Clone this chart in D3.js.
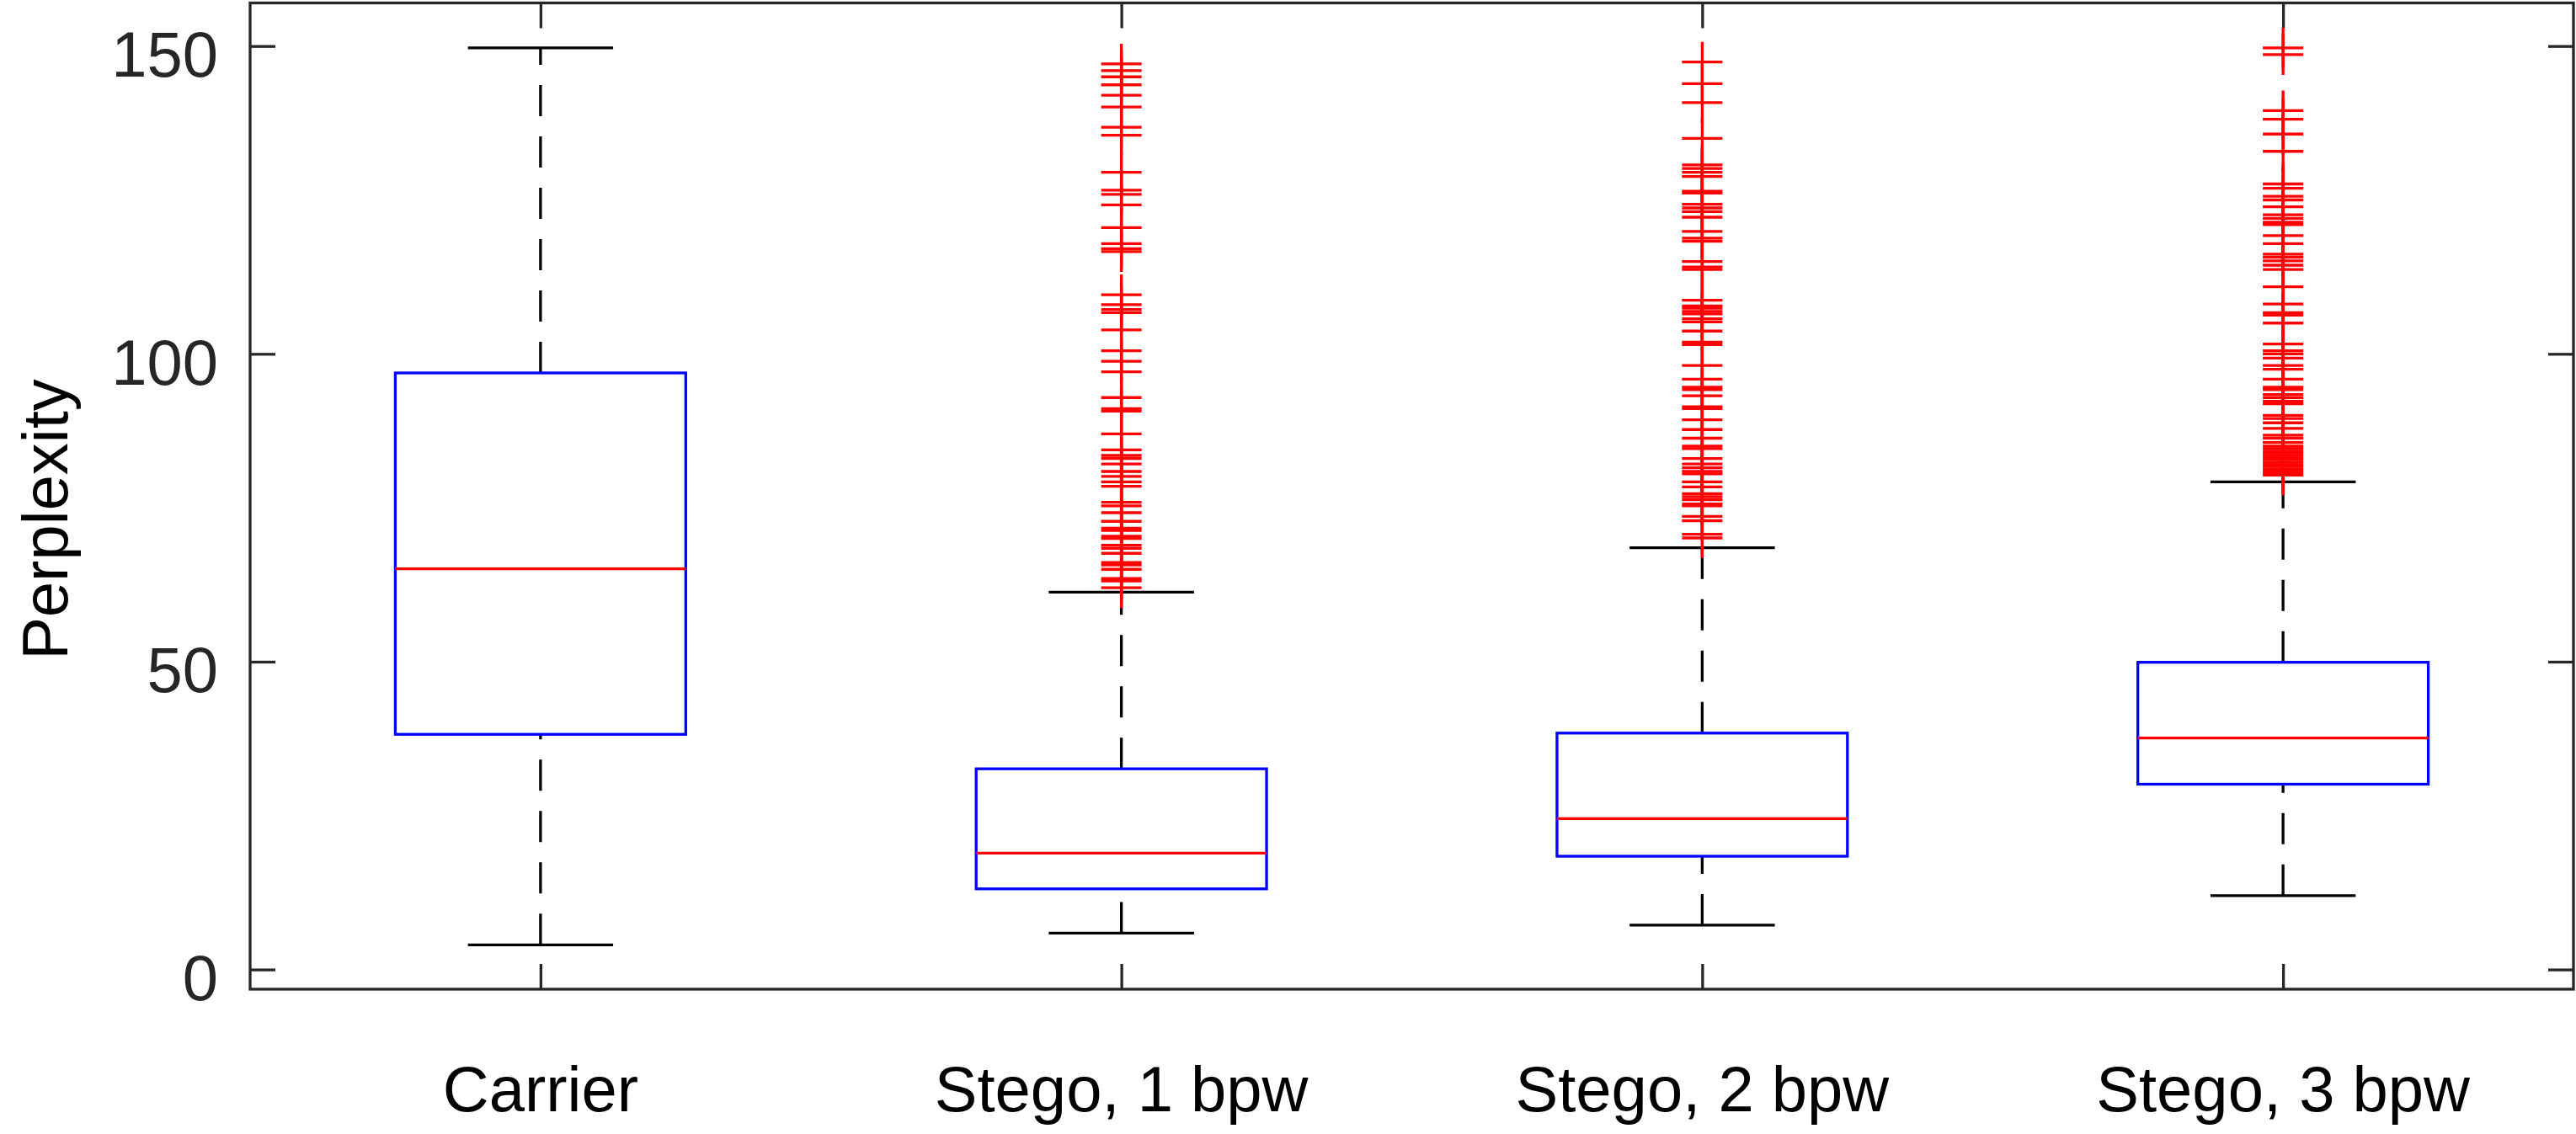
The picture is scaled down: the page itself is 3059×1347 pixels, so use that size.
<!DOCTYPE html>
<html>
<head>
<meta charset="utf-8">
<script src="https://cdn.jsdelivr.net/npm/d3@7"></script>
<style>
    body { margin: 0; background: #fff; }
    text { font-family: "Liberation Sans", Arial, Helvetica, sans-serif; }
</style>
</head>
<body>
<div id="chart"></div>
<script>
// Box plot statistics
const categories = ["Carrier", "Stego, 1 bpw", "Stego, 2 bpw", "Stego, 3 bpw"]
const lowerWhisker = [4.0, 5.9, 7.2, 12.0]
const q1 = [38.2, 13.1, 18.4, 30.1]
const median = [65.1, 18.9, 24.5, 37.6]
const q3 = [96.9, 32.6, 38.4, 49.9]
const upperWhisker = [149.7, 61.3, 68.5, 79.2]

// Outliers ('+' markers) per category
const outliersCarrier = []
const outliersStego1 = [147.1, 146.0, 145.0, 143.7, 142.0, 140.1, 136.8, 135.5, 129.5, 126.6, 125.9, 124.2,
    120.5, 117.9, 117.1, 116.6, 109.6, 108.0, 107.2, 106.7, 103.9, 100.5, 98.8, 97.1, 92.9, 91.1, 90.7,
    87.0, 84.4, 83.5, 83.0, 82.1, 80.9, 80.1, 79.2, 78.5, 75.9, 75.3, 74.2, 72.8, 71.7, 71.3, 70.4, 70.0,
    68.9, 68.4, 67.6, 66.1, 65.7, 65.0, 63.5, 63.1, 62.0]
const outliersStego2 = [147.4, 143.9, 140.8, 135.0, 130.7, 130.1, 129.5, 128.8, 126.4, 126.1, 124.3, 123.7,
    123.1, 122.2, 119.9, 118.8, 118.3, 115.0, 114.1, 113.7, 108.7, 107.8, 107.4, 106.9, 106.5, 105.7, 105.2,
    103.7, 101.9, 101.5, 98.1, 95.9, 94.6, 94.2, 93.2, 91.4, 91.1, 89.3, 87.7, 86.3, 85.0, 84.6, 83.0, 82.1,
    81.5, 80.9, 80.5, 79.2, 78.4, 77.3, 76.8, 76.3, 75.6, 75.3, 73.6, 72.9, 70.7, 70.1]
const outliersStego3 = [149.7, 148.6, 139.5, 138.1, 135.7, 132.9, 127.6, 126.9, 125.6, 125.0, 123.9, 122.6,
    122.0, 121.4, 121.0, 119.2, 117.9, 116.2, 115.7, 115.1, 114.4, 113.7, 110.9, 108.1, 106.7, 106.3, 105.0,
    101.6, 100.5, 100.0, 99.3, 98.1, 97.5, 95.9, 94.6, 94.2, 93.4, 92.9, 92.3, 91.9, 90.0, 89.5, 88.8, 87.9,
    86.8, 86.3, 85.6, 85.0, 84.6, 84.2, 83.9, 83.5, 83.1, 82.8, 82.4, 82.0, 81.7, 81.3, 81.0, 80.6, 80.3]
const outliers = [outliersCarrier, outliersStego1, outliersStego2, outliersStego3]

const yTicks = [0, 50, 100, 150]
const yLabel = "Perplexity"

// Figure geometry
const width = 3059, height = 1347
const plotLeft = 297, plotRight = 3056, plotTop = 3.5, plotBottom = 1175
const axisColor = "#262626"

let svg = d3.select("#chart").append("svg")
    .attr("width", width)
    .attr("height", height)

svg.append("rect").attr("width", width).attr("height", height).attr("fill", "#fff")

// Scales: categories sit at 1..4, limits 0.5..4.5 like MATLAB boxplot
const x = d3.scaleLinear().domain([0.5, 4.5]).range([plotLeft, plotRight])
const y = d3.scaleLinear().domain([-3.2, 157]).range([plotBottom, plotTop])

const boxHalf = 0.25, capHalf = 0.125

let data = categories.map((c, i) => ({
    name: c, pos: i + 1,
    lo: lowerWhisker[i], q1: q1[i], med: median[i], q3: q3[i], hi: upperWhisker[i],
    out: outliers[i]
}))

// Axes with inward ticks on all four sides
function styleAxis(g) {
    g.select(".domain").remove()
    g.selectAll(".tick line").attr("stroke", axisColor).attr("stroke-width", 3.3)
}

svg.append("g")
    .attr("transform", `translate(${plotLeft},0)`)
    .call(d3.axisLeft(y).tickValues(yTicks).tickSizeInner(-30).tickSizeOuter(0).tickPadding(41))
    .call(styleAxis)
    .call(g => g.selectAll(".tick text")
        .attr("fill", axisColor)
        .attr("font-size", 76)
        .attr("font-family", "Liberation Sans, Arial, Helvetica, sans-serif")
        .attr("dy", 36)
        .attr("x", -38))

svg.append("g")
    .attr("transform", `translate(${plotRight},0)`)
    .call(d3.axisRight(y).tickValues(yTicks).tickSizeInner(-30).tickSizeOuter(0).tickFormat(""))
    .call(styleAxis)

svg.append("g")
    .attr("transform", `translate(0,${plotBottom})`)
    .call(d3.axisBottom(x).tickValues(data.map(d => d.pos)).tickSizeInner(-30).tickSizeOuter(0).tickFormat(""))
    .call(styleAxis)

svg.append("g")
    .attr("transform", `translate(0,${plotTop})`)
    .call(d3.axisTop(x).tickValues(data.map(d => d.pos)).tickSizeInner(-30).tickSizeOuter(0).tickFormat(""))
    .call(styleAxis)

// Category labels
svg.append("g")
    .selectAll("text")
    .data(data)
    .enter()
    .append("text")
    .attr("x", d => x(d.pos))
    .attr("y", 1320)
    .attr("text-anchor", "middle")
    .attr("font-size", 76)
    .attr("fill", "#000")
    .text(d => d.name)

// Y axis title
svg.append("text")
    .attr("transform", "translate(80,617) rotate(-90)")
    .attr("text-anchor", "middle")
    .attr("font-size", 76)
    .attr("fill", "#000")
    .text(yLabel)

let boxes = svg.append("g")
    .selectAll("g")
    .data(data)
    .enter()
    .append("g")

// Dashed whiskers, drawn from low value to high value
boxes.append("line")
    .attr("x1", d => x(d.pos)).attr("x2", d => x(d.pos))
    .attr("y1", d => y(d.lo)).attr("y2", d => y(d.q1))
    .attr("stroke", "#000").attr("stroke-width", 3.3).attr("stroke-dasharray", "37,24")
boxes.append("line")
    .attr("x1", d => x(d.pos)).attr("x2", d => x(d.pos))
    .attr("y1", d => y(d.q3)).attr("y2", d => y(d.hi))
    .attr("stroke", "#000").attr("stroke-width", 3.3).attr("stroke-dasharray", "37,24")

// Whisker caps
boxes.selectAll(".cap")
    .data(d => [d.lo, d.hi].map(v => ({pos: d.pos, v: v})))
    .enter()
    .append("line")
    .attr("class", "cap")
    .attr("x1", d => x(d.pos - capHalf)).attr("x2", d => x(d.pos + capHalf))
    .attr("y1", d => y(d.v)).attr("y2", d => y(d.v))
    .attr("stroke", "#000").attr("stroke-width", 3.3)

// Box (Q1..Q3)
boxes.append("rect")
    .attr("x", d => x(d.pos - boxHalf))
    .attr("width", d => x(d.pos + boxHalf) - x(d.pos - boxHalf))
    .attr("y", d => y(d.q3))
    .attr("height", d => y(d.q1) - y(d.q3))
    .attr("fill", "none")
    .attr("stroke", "#0000ff").attr("stroke-width", 3.3)

// Median
boxes.append("line")
    .attr("x1", d => x(d.pos - boxHalf)).attr("x2", d => x(d.pos + boxHalf))
    .attr("y1", d => y(d.med)).attr("y2", d => y(d.med))
    .attr("stroke", "#ff0000").attr("stroke-width", 3.3)

// Outliers as '+' markers
boxes.selectAll(".out")
    .data(d => d.out.map(v => ({pos: d.pos, v: v})))
    .enter()
    .append("path")
    .attr("class", "out")
    .attr("transform", d => `translate(${x(d.pos)},${y(d.v)})`)
    .attr("d", "M-24,0H24M0,-24V24")
    .attr("fill", "none")
    .attr("stroke", "#ff0000").attr("stroke-width", 3.3)

// Frame
svg.append("rect")
    .attr("x", plotLeft).attr("y", plotTop)
    .attr("width", plotRight - plotLeft).attr("height", plotBottom - plotTop)
    .attr("fill", "none")
    .attr("stroke", axisColor).attr("stroke-width", 3.3)
</script>
</body>
</html>
